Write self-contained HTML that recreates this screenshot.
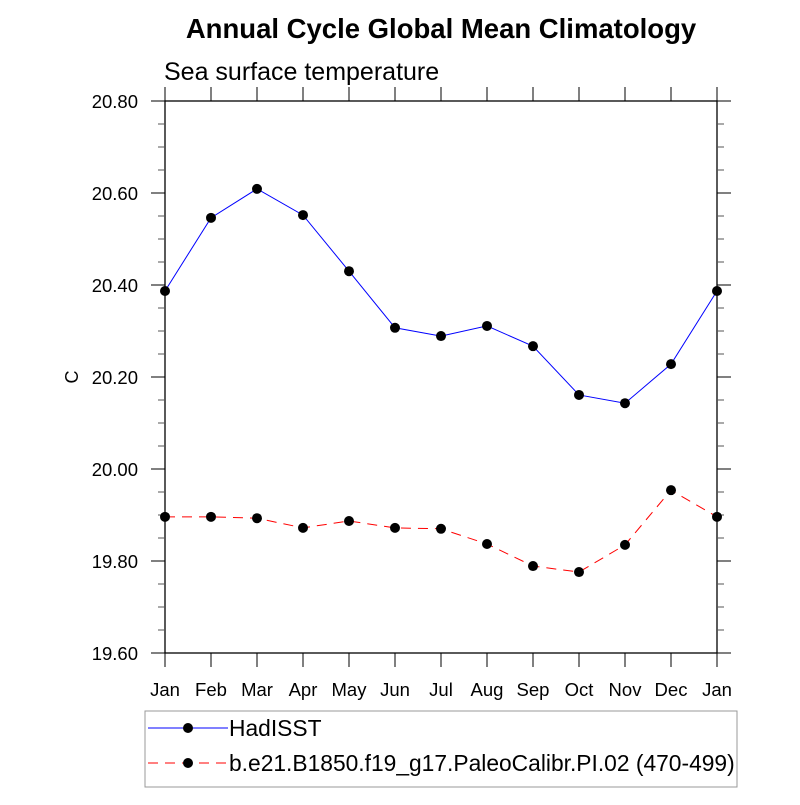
<!DOCTYPE html>
<html><head><meta charset="utf-8"><style>
body{margin:0;background:#fff;}
svg text{font-family:"Liberation Sans",sans-serif;}
</style></head><body>
<svg id="chart" width="800" height="800" xmlns="http://www.w3.org/2000/svg">
<rect width="800" height="800" fill="#fff"/>
<text x="441" y="38" text-anchor="middle" font-size="27.5" font-weight="bold">Annual Cycle Global Mean Climatology</text>
<text x="164" y="80" font-size="25">Sea surface temperature</text>
<text x="78" y="377" font-size="18" text-anchor="middle" transform="rotate(-90 78 377)">C</text>
<g id="axes"></g>
<g id="series"></g>
<rect x="145" y="711" width="592" height="76" fill="none" stroke="#999" stroke-width="1"/>
<g>
<line x1="148" y1="728" x2="228" y2="728" stroke="#00f" stroke-width="1"/>
<circle cx="188" cy="728" r="5" fill="#000"/>
<text x="229" y="736" font-size="22.8">HadISST</text>
</g>
<g>
<line x1="148" y1="763" x2="228" y2="763" stroke="#f00" stroke-width="1" stroke-dasharray="10,7"/>
<circle cx="188" cy="763" r="5" fill="#000"/>
<text x="229" y="771" font-size="22.8">b.e21.B1850.f19_g17.PaleoCalibr.PI.02 (470-499)</text>
</g>
</svg>
<script>
const months = ["Jan","Feb","Mar","Apr","May","Jun","Jul","Aug","Sep","Oct","Nov","Dec","Jan"];
const hadisst = [20.387,20.546,20.609,20.552,20.430,20.307,20.289,20.311,20.267,20.161,20.143,20.228,20.387];
const model = [19.896,19.896,19.893,19.872,19.887,19.872,19.870,19.837,19.789,19.776,19.835,19.954,19.896];
const yTicks = [19.6,19.8,20.0,20.2,20.4,20.6,20.8];
const yTickLabels = ["19.60","19.80","20.00","20.20","20.40","20.60","20.80"];

const NS="http://www.w3.org/2000/svg";
const L=165,R=717,T=101,B=653,yMin=19.6,yMax=20.8;
const xs=i=>L+(R-L)*i/(months.length-1);
const ys=v=>B-(v-yMin)/(yMax-yMin)*(B-T);
function mk(tag,attrs,parent){const e=document.createElementNS(NS,tag);for(const k in attrs)e.setAttribute(k,attrs[k]);parent.appendChild(e);return e;}
const ax=document.getElementById('axes');
const fr=mk('rect',{x:L,y:T,width:R-L,height:B-T,fill:'none',stroke:'#000','stroke-width':1.3},ax);


for(let v=yMin;v<=yMax+1e-9;v+=0.05){
  const y=ys(v);const major=Math.abs(Math.round(v*5)-v*5)<1e-6;const len=major?14:7;
  mk('line',{x1:L-len,y1:y,x2:L,y2:y,stroke:major?'#000':'#555','stroke-width':1},ax);
  mk('line',{x1:R,y1:y,x2:R+len,y2:y,stroke:major?'#000':'#555','stroke-width':1},ax);
}
yTicks.forEach((v,i)=>{
  const t=mk('text',{x:L-27,y:ys(v)+7,'text-anchor':'end','font-size':18.5},ax);
  t.textContent=yTickLabels[i];
  
  
});
months.forEach((m,i)=>{
  const x=xs(i);
  mk('line',{x1:x,y1:B,x2:x,y2:B+14,stroke:'#000','stroke-width':1},ax);
  mk('line',{x1:x,y1:T-14,x2:x,y2:T,stroke:'#000','stroke-width':1},ax);
  const t=mk('text',{x:x,y:B+43,'text-anchor':'middle','font-size':18.5},ax);
  t.textContent=m;
  
  
});
const sg=document.getElementById('series');
function drawSeries(vals,color,dash,name){
  const g=mk('g',{},sg);
  
  
  const p=mk('polyline',{points:vals.map((v,i)=>xs(i)+','+ys(v)).join(' '),fill:'none',stroke:color,'stroke-width':1,'stroke-dasharray':dash},g);
  
  
  vals.forEach((v,i)=>{
    const c=mk('circle',{cx:xs(i),cy:ys(v),r:5,fill:'#000'},g);
    
    
  });
}
drawSeries(hadisst,'#00f','none','hadisst-series');
drawSeries(model,'#f00','10,7','model-series');
</script>
</body></html>
